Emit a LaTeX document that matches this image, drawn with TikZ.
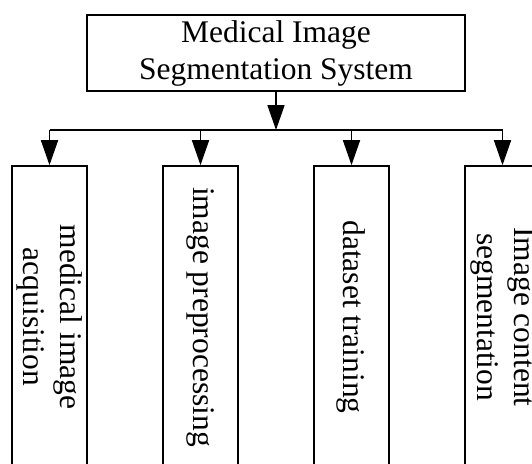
\documentclass[tikz,border=0pt]{standalone}
\usepackage{fontspec}
\setmainfont{Liberation Serif}
\usetikzlibrary{arrows.meta}

\begin{document}
\begin{tikzpicture}[x=1pt,y=-1pt,line width=1.6pt,
    every node/.style={font=\fontsize{31.5}{37}\selectfont},
    sysbox/.style={draw,align=center,minimum width=378pt,minimum height=76pt,inner sep=0pt},
    stage/.style={draw,rotate=-90,align=center,minimum width=302pt,minimum height=75.5pt,inner sep=0pt},
    arr/.style={-{Triangle[width=17pt,length=25pt]}}]
            \useasboundingbox (0,0) rectangle (532,463);
            \node[sysbox] (sys) at (276,53) {Medical Image\\Segmentation System};
            \coordinate (bus) at (276,130);
            % rotated boxes: west is the top side
            \node[stage] (acq)  at (49.5,317)  {medical image\\acquisition};
            \node[stage] (prep) at (200.5,317) {image preprocessing};
            \node[stage] (train) at (351.5,317) {dataset training};
            \node[stage] (seg)  at (502.5,317) {Image content\\segmentation};
            \draw[arr] (sys.south) -- (bus);
            \draw (acq.west |- bus) -- (seg.west |- bus);
            \draw[arr] (acq.west |- bus) -- (acq.west);
            \draw[arr] (prep.west |- bus) -- (prep.west);
            \draw[arr] (train.west |- bus) -- (train.west);
            \draw[arr] (seg.west |- bus) -- (seg.west);
        \end{tikzpicture}
\end{document}
